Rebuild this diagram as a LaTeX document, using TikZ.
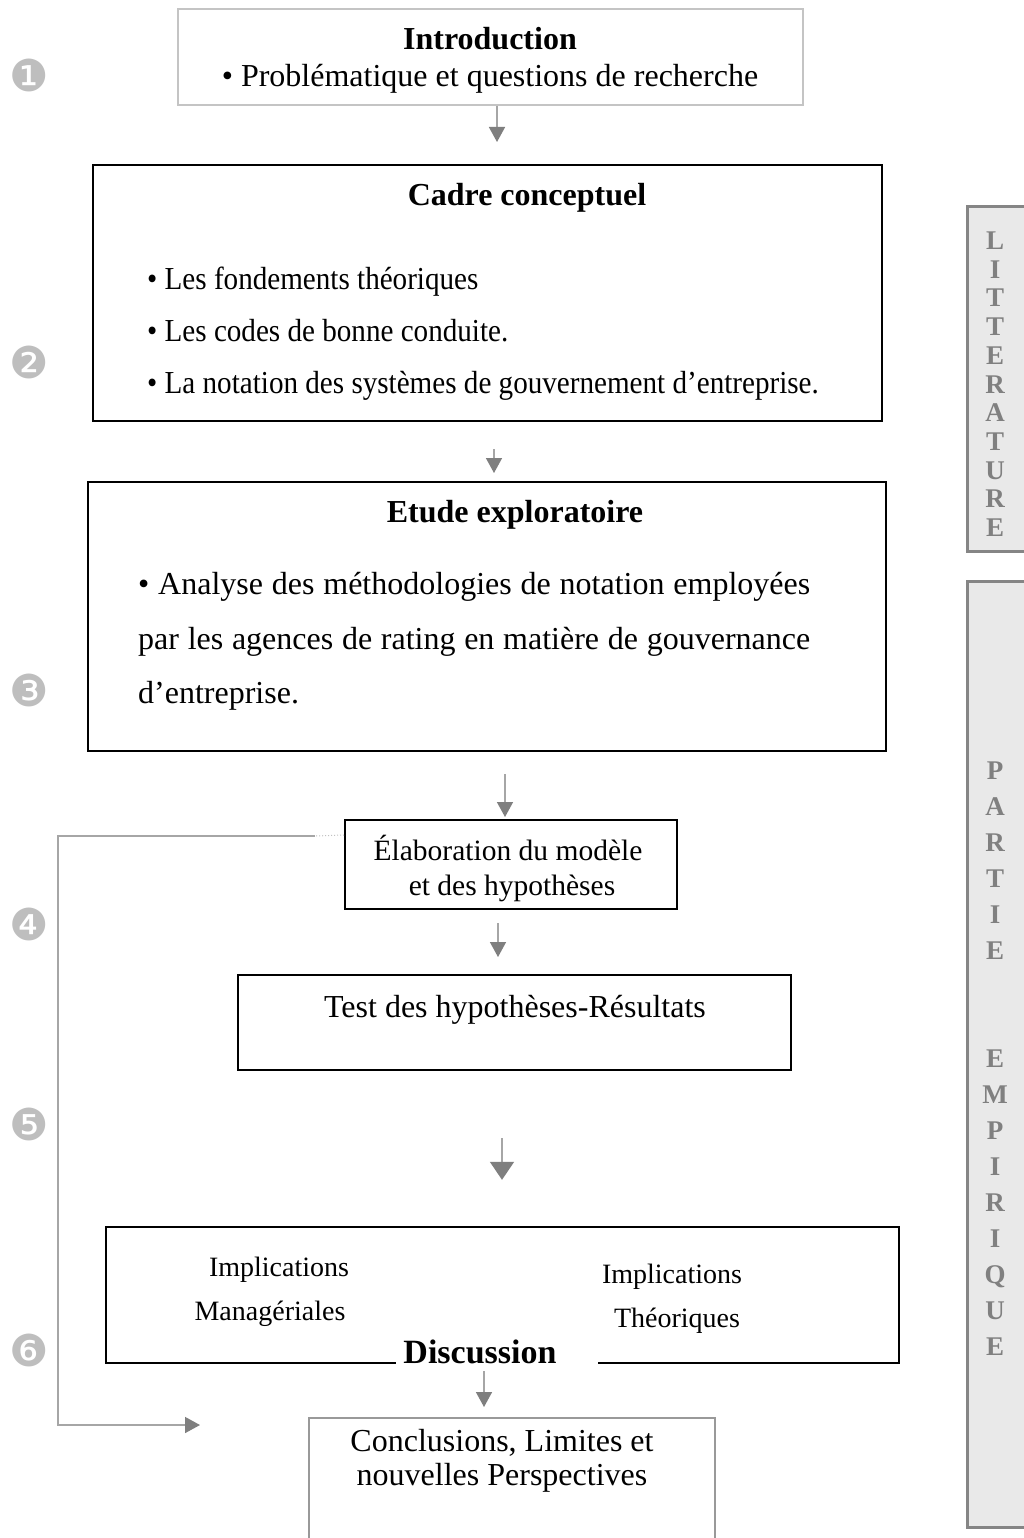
\documentclass[tikz,border=0pt]{standalone}
\usepackage{fontspec}
\setmainfont{Liberation Serif}
\newfontfamily\dingfont{DejaVu Sans}
\usetikzlibrary{arrows.meta,calc}
\definecolor{linegray}{HTML}{A6A6A6}
\definecolor{headgray}{HTML}{7F7F7F}
\definecolor{introgray}{HTML}{C4C4C4}
\definecolor{concgray}{HTML}{999999}
\definecolor{barfill}{HTML}{E9E9E9}
\definecolor{barline}{HTML}{858585}
\definecolor{lettergray}{HTML}{808080}
\definecolor{numgray}{HTML}{BEBEBE}
\tikzset{
  box/.style={draw=black, line width=2pt, inner sep=0pt},
  txtbig/.style={font=\fontsize{32}{38}\selectfont, inner sep=0pt, anchor=base},
  txtmid/.style={font=\fontsize{29.5}{36}\selectfont, inner sep=0pt, anchor=base},
  txtsmall/.style={font=\fontsize{28}{34}\selectfont, inner sep=0pt, anchor=base},
  txtcond/.style={font=\fontsize{32}{38}\selectfont, inner sep=0pt, anchor=base west},
  ttl/.style={font=\fontsize{32}{38}\selectfont\bfseries, inner sep=0pt, anchor=base},
  flow/.style={draw=linegray, line width=1.5pt, -{Triangle[width=16pt,length=15pt,color=headgray]}},
  flowbig/.style={draw=linegray, line width=1.5pt, -{Triangle[width=24pt,length=18pt,color=headgray]}},
  sidebar/.style={draw=barline, fill=barfill, line width=3pt, inner sep=0pt},
  sideletter/.style={font=\fontsize{27}{29}\selectfont\bfseries, text=lettergray, inner sep=0pt, anchor=base},
  numcirc/.style={font=\dingfont\fontsize{44}{44}\selectfont, text=numgray, inner sep=0pt}
}
\newcommand{\condtext}[1]{\scalebox{0.91}[1]{#1}}
\begin{document}
\begin{tikzpicture}[x=1pt,y=-1pt]
\useasboundingbox[fill=white] (0,0) rectangle (1024,1538);

% side bars
\node[sidebar, minimum width=70pt, minimum height=344pt] (litbar) at (1002,379) {};
\node[sidebar, minimum width=70pt, minimum height=946pt] (empbar) at (1002,1054) {};
\foreach \l [count=\i from 0] in {L,I,T,T,E,R,A,T,U,R,E}
  \node[sideletter] (lit\i) at (995,{249.5+28.7*\i}) {\l};
\foreach \l [count=\i from 0] in {P,A,R,T,I,E}
  \node[sideletter] (par\i) at (995,{779.5+36*\i}) {\l};
\foreach \l [count=\i from 0] in {E,M,P,I,R,I,Q,U,E}
  \node[sideletter] (emp\i) at (995,{1067.5+36*\i}) {\l};

% numbers
\node[numcirc] (n1) at (29,75) {❶};
\node[numcirc] (n2) at (29,362) {❷};
\node[numcirc] (n3) at (29,690) {❸};
\node[numcirc] (n4) at (29,924) {❹};
\node[numcirc] (n5) at (29,1124) {❺};
\node[numcirc] (n6) at (29,1350) {❻};

% Introduction
\node[draw=introgray, line width=1.5pt, inner sep=0pt, minimum width=625pt, minimum height=96pt] (intro) at (490.5,57) {};
\node[ttl] (introT) at (490,50) {Introduction};
\node[txtbig] (introA) at (490,87) {• Problématique et questions de recherche};

% Cadre conceptuel
\node[box, minimum width=789pt, minimum height=256pt] (cadre) at (487.5,293) {};
\node[ttl] (cadreT) at (527,206) {Cadre conceptuel};
\node[txtcond] (cadreA) at (147,289) {\condtext{• Les fondements théoriques}};
\node[txtcond] (cadreB) at (147,341) {\condtext{• Les codes de bonne conduite.}};
\node[txtcond] (cadreC) at (147,393) {\condtext{• La notation des systèmes de gouvernement d’entreprise.}};

% Etude exploratoire
\node[box, minimum width=798pt, minimum height=269pt] (etude) at (487,616.5) {};
\node[ttl] (etudeT) at (515,522) {Etude exploratoire};
\node[txtbig, anchor=base west] (etudeA) at (138,594) {\makebox[672pt][s]{• Analyse des méthodologies de notation employées}};
\node[txtbig, anchor=base west] (etudeB) at (138,649) {\makebox[672pt][s]{par les agences de rating en matière de gouvernance}};
\node[txtbig, anchor=base west] (etudeC) at (138,703) {d’entreprise.};

% Elaboration
\node[box, minimum width=332pt, minimum height=89pt] (elab) at (511,864.5) {};
\node[txtmid] (elabA) at (508,860) {Élaboration du modèle};
\node[txtmid] (elabB) at (512,895) {et des hypothèses};

% Test
\node[box, minimum width=553pt, minimum height=95pt] (test) at (514.5,1022.5) {};
\node[txtbig] (testA) at (515,1017) {Test des hypothèses-Résultats};

% Discussion
\node[inner sep=0pt, minimum width=793pt, minimum height=136pt] (disc) at (502.5,1295) {};
\draw[line width=2pt] ($(disc.south west)+(290,0)$) -- (disc.south west) -- (disc.north west) -- (disc.north east) -- (disc.south east) -- ($(disc.south east)+(-301,0)$);
\node[font=\fontsize{34}{40}\selectfont\bfseries, inner sep=0pt, anchor=base] (discT) at (480,1363) {Discussion};
\node[txtsmall] (discA) at (279,1276) {Implications};
\node[txtsmall] (discB) at (270,1320) {Managériales};
\node[txtsmall] (discC) at (672,1283) {Implications};
\node[txtsmall] (discD) at (677,1327) {Théoriques};

% Conclusions
\node[draw=concgray, line width=2pt, inner sep=0pt, minimum width=406pt, minimum height=130pt] (conc) at (512,1483) {};
\node[txtbig] (concA) at (502,1451) {Conclusions, Limites et};
\node[txtbig] (concB) at (502,1485) {nouvelles Perspectives};

% arrows
\draw[flow] ($(intro.south)+(6.5,0)$) -- ($(cadre.north)+(9.5,-22)$);
\draw[flow] ($(cadre.south)+(6.5,27)$) -- ($(etude.north)+(7,-8)$);
\draw[flow] ($(etude.south)+(18,22)$) -- ($(elab.north)+(-6,-2)$);
\draw[flow] ($(elab.south)+(-13,13)$) -- ($(test.north)+(-16.5,-17)$);
\draw[flowbig] ($(test.south)+(-12.5,67)$) -- ($(disc.north)+(-0.5,-47)$);
\draw[flow] ($(disc.south)+(-18.5,8)$) -- ($(conc.north)+(-28,-10)$);

% feedback line
\coordinate (fbA) at ($(elab.north west)+(0,16)$);
\coordinate (fbB) at (315,836);
\coordinate (fbC) at (58,836);
\coordinate (fbD) at (58,1425);
\coordinate (fbE) at (200,1425);
\draw[draw=linegray!70, line width=1pt, dotted] (fbA) -- (fbB);
\draw[flow] (fbB) -- (fbC) -- (fbD) -- (fbE);
\end{tikzpicture}
\end{document}
